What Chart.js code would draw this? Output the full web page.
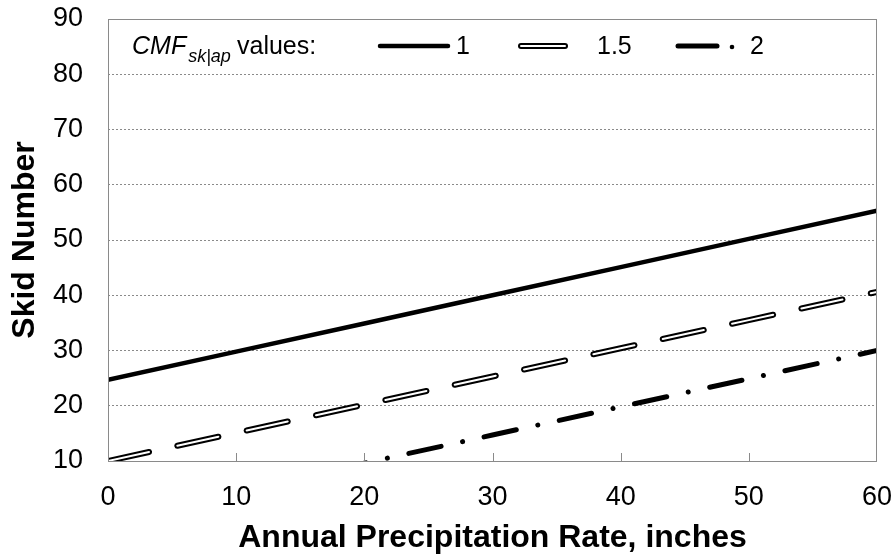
<!DOCTYPE html>
<html>
<head>
<meta charset="utf-8">
<title>Skid Number vs Annual Precipitation Rate</title>
<script src="https://cdn.jsdelivr.net/npm/chart.js@4.4.1/dist/chart.umd.min.js"></script>
<style>
  body { margin: 0; background: #fff; }
</style>
</head>
<body>
<canvas id="skidChart" width="896" height="558"></canvas>
<script>
// Skid number vs annual precipitation, one line per CMF value
var precip = [0, 10, 20, 30, 40, 50, 60];
var cmfLabels = ["1", "1.5", "2"];
var sn_cmf1 = [24.7, 29.8, 34.9, 40.0, 45.1, 50.2, 55.3];
var sn_cmf15 = [10.0, 15.1, 20.2, 25.3, 30.4, 35.5, 40.6];
var sn_cmf2 = [-0.6, 4.5, 9.6, 14.7, 19.8, 24.9, 30.0];
var xTicks = [0, 10, 20, 30, 40, 50, 60];
var yTicks = [10, 20, 30, 40, 50, 60, 70, 80, 90];

var FONT = "'Liberation Sans', Arial, sans-serif";
var GRAY = "#8a8a8a";

function pts(ys){
  var out = [];
  for (var i = 0; i < precip.length; i++){
    out.push({x: precip[i], y: ys[i]});
  }
  return out;
}

// frame round the plot area + the little tick marks pointing inside
var plotFrame = {
  id: "plotFrame",
  afterDatasetsDraw: function(chart){
    var c = chart.ctx;
    var a = chart.chartArea;
    var xs = chart.scales.x;
    c.save();
    c.strokeStyle = GRAY;
    c.lineWidth = 1;
    c.beginPath();
    for (var i = 1; i < xTicks.length - 1; i++){
      var px = Math.round(xs.getPixelForValue(xTicks[i])) + 0.5;
      c.moveTo(px, a.bottom);
      c.lineTo(px, a.bottom - 8);
    }
    c.stroke();
    c.strokeRect(Math.round(a.left) + 0.5, Math.round(a.top) + 0.5,
      Math.round(a.right - a.left) - 1, Math.round(a.bottom - a.top));
    c.restore();
  }
};

// legend row inside the top of the plot (needs italic subscript)
var cmfLegend = {
  id: "cmfLegend",
  afterDraw: function(chart){
    var c = chart.ctx;
    var y = 46;
    c.save();
    c.fillStyle = "#000";
    c.textBaseline = "alphabetic";
    c.font = "italic 25px " + FONT;
    c.fillText("CMF", 132, 54);
    var w = c.measureText("CMF").width;
    c.font = "italic 18px " + FONT;
    c.fillText("sk|ap", 132 + w + 2, 62);
    c.font = "25px " + FONT;
    c.fillText("values:", 237, 54);

    c.lineCap = "round";
    c.strokeStyle = "#000";
    // 1
    c.lineWidth = 4.5;
    c.beginPath(); c.moveTo(380, y); c.lineTo(448, y); c.stroke();
    c.fillText(cmfLabels[0], 456, 54);
    // 1.5
    c.lineWidth = 6;
    c.beginPath(); c.moveTo(521, y); c.lineTo(565, y); c.stroke();
    c.strokeStyle = "#fff";
    c.lineWidth = 2;
    c.beginPath(); c.moveTo(521, y); c.lineTo(565, y); c.stroke();
    c.fillText(cmfLabels[1], 597, 54);
    // 2
    c.strokeStyle = "#000";
    c.lineWidth = 5;
    c.beginPath(); c.moveTo(678, y); c.lineTo(717, y); c.stroke();
    c.beginPath(); c.arc(732, y + 1, 2.3, 0, Math.PI * 2); c.fill();
    c.fillText(cmfLabels[2], 750, 54);
    c.restore();
  }
};

var ctx = document.querySelector("#skidChart").getContext("2d");
var skidChart = new Chart(ctx, {
  type: "line",
  data: {
    datasets: [
      {
        label: cmfLabels[0],
        data: pts(sn_cmf1),
        borderColor: "#000",
        borderWidth: 4.5,
        pointRadius: 0,
        order: 3
      },
      {
        label: cmfLabels[1],
        data: pts(sn_cmf15),
        borderColor: "#000",
        borderWidth: 6,
        borderDash: [42, 29],
        borderCapStyle: "round",
        pointRadius: 0,
        order: 2
      },
      {
        label: cmfLabels[1] + " inner",
        data: pts(sn_cmf15),
        borderColor: "#fff",
        borderWidth: 2,
        borderDash: [42, 29],
        borderCapStyle: "round",
        pointRadius: 0,
        order: 1
      },
      {
        label: cmfLabels[2],
        data: pts(sn_cmf2),
        borderColor: "#000",
        borderWidth: 5,
        borderDash: [33, 22, 0.01, 22],
        borderCapStyle: "round",
        pointRadius: 0,
        order: 4
      }
    ]
  },
  options: {
    responsive: false,
    animation: false,
    layout: { padding: { top: 19, right: 19, left: 0, bottom: 0 } },
    plugins: {
      legend: { display: false },
      tooltip: { enabled: false }
    },
    scales: {
      x: {
        type: "linear",
        min: xTicks[0],
        max: xTicks[xTicks.length - 1],
        afterFit: function(s){
          s.height = 97;
          s.paddingLeft = 0;
          s.paddingRight = 0;
        },
        ticks: {
          stepSize: 10,
          padding: 20,
          color: "#000",
          font: { family: FONT, size: 27 }
        },
        grid: { display: false, drawTicks: false },
        border: { display: false },
        title: {
          display: true,
          text: "Annual Precipitation Rate, inches",
          color: "#000",
          padding: { top: 0, bottom: 1 },
          font: { family: FONT, size: 32, weight: "bold" }
        }
      },
      y: {
        min: yTicks[0],
        max: yTicks[yTicks.length - 1],
        afterFit: function(s){
          s.width = 108;
          s.paddingTop = 0;
          s.paddingBottom = 0;
        },
        ticks: {
          stepSize: 10,
          padding: 25,
          color: "#000",
          font: { family: FONT, size: 27 }
        },
        grid: { color: GRAY, lineWidth: 1, drawTicks: false },
        border: { display: false, dash: [2, 2] },
        title: {
          display: true,
          text: "Skid Number",
          color: "#000",
          padding: { top: 6, bottom: 0 },
          font: { family: FONT, size: 32, weight: "bold" }
        }
      }
    }
  },
  plugins: [plotFrame, cmfLegend]
});
</script>
</body>
</html>
